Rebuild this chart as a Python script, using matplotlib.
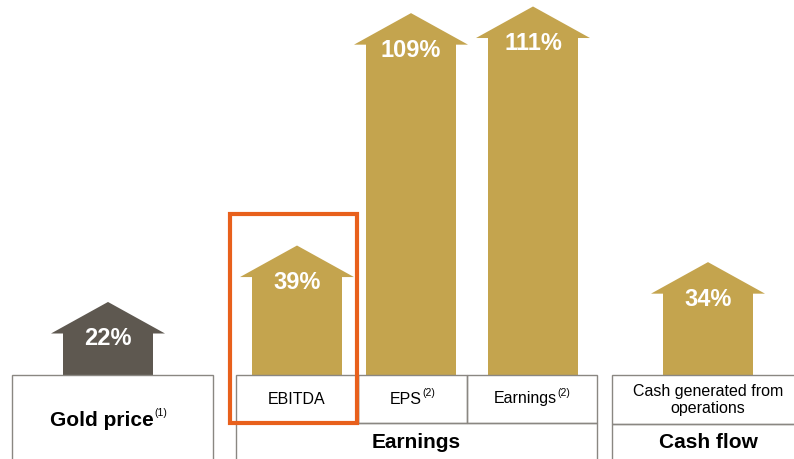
import matplotlib
matplotlib.use("Agg")
import matplotlib.pyplot as plt
from matplotlib.patches import Polygon, Rectangle

plt.rcParams['font.family'] = ['Liberation Sans', 'DejaVu Sans']

# Data
labels = ["Gold price", "EBITDA", "EPS", "Earnings", "Cash generated from\noperations"]
values = [22, 39, 109, 111, 34]
value_text = ["22%", "39%", "109%", "111%", "34%"]
groups = ["Earnings", "Cash flow"]

# Layout (pixels across, percent up)
W, H = 794, 459
BASE = 375          # pixel row of the baseline
PX = 3.32           # pixels per percentage point
centers = [108, 297, 411, 533, 708]
shaft_w, head_w, head_h = 90, 114, 9.5
colors = ["#5E5850", "#C4A44E", "#C4A44E", "#C4A44E", "#C4A44E"]
edge = "#8A8782"

fig = plt.figure(figsize=(W / 100, H / 100), dpi=100)
ax = fig.add_axes([0, 0, 1, 1])
ax.set_xlim(0, W)
ax.set_ylim(-(H - BASE) / PX, BASE / PX)
ax.axis("off")


def py(p):
    # pixel offset below baseline -> data units
    return -p / PX


def sup(txt, s):
    ax.annotate(s, xy=(1, 0.6), xycoords=txt, xytext=(0.5, 0),
                textcoords="offset points", fontsize=7.5, va="bottom", ha="left")


# arrows
for cx, v, c, t in zip(centers, values, colors, value_text):
    top = v
    sh = top - head_h
    pts = [(cx - shaft_w / 2, 0), (cx - shaft_w / 2, sh), (cx - head_w / 2, sh),
           (cx, top), (cx + head_w / 2, sh), (cx + shaft_w / 2, sh),
           (cx + shaft_w / 2, 0)]
    ax.add_patch(Polygon(pts, closed=True, facecolor=c, edgecolor="none", zorder=2))
    ax.text(cx, top - 37 / PX, t, color="white", fontsize=17, fontweight="bold",
            ha="center", va="center", zorder=3)

lw = 1.0
# Gold price box
ax.add_patch(Rectangle((12, py(H - BASE + 5)), 201, (H - BASE + 5) / PX,
                       fill=False, edgecolor=edge, lw=lw, zorder=3))
g = ax.text(102, py(45), labels[0], fontsize=15, fontweight="bold", ha="center",
            va="center", zorder=4)
sup(g, "(1)")

# Earnings table
ex = [236, 358, 467, 597]
for x0, x1 in zip(ex[:-1], ex[1:]):
    ax.add_patch(Rectangle((x0, py(48)), x1 - x0, 48 / PX, fill=False,
                           edgecolor=edge, lw=lw, zorder=3))
ax.add_patch(Rectangle((ex[0], py(H - BASE + 5)), ex[-1] - ex[0], (H - BASE + 5 - 48) / PX,
                       fill=False, edgecolor=edge, lw=lw, zorder=3))
ax.text((ex[0] + ex[1]) / 2, py(24), labels[1], fontsize=11.5, ha="center", va="center")
t = ax.text((ex[1] + ex[2]) / 2 - 7, py(24), labels[2], fontsize=11.5, ha="center", va="center")
sup(t, "(2)")
t = ax.text((ex[2] + ex[3]) / 2 - 7, py(24), labels[3], fontsize=11.5, ha="center", va="center")
sup(t, "(2)")
ax.text((ex[0] + ex[-1]) / 2, py(68), groups[0], fontsize=15, fontweight="bold",
        ha="center", va="center")

# Cash flow table
cx0, cx1 = 612, 800
ax.add_patch(Rectangle((cx0, py(49)), cx1 - cx0, 49 / PX, fill=False,
                       edgecolor=edge, lw=lw, zorder=3))
ax.add_patch(Rectangle((cx0, py(H - BASE + 5)), cx1 - cx0, (H - BASE + 5 - 49) / PX,
                       fill=False, edgecolor=edge, lw=lw, zorder=3))
ax.text(708, py(25), labels[4], fontsize=11.5, ha="center", va="center", linespacing=1.15)
ax.text(708, py(68), groups[1], fontsize=15, fontweight="bold", ha="center", va="center")

# highlight around EBITDA
ax.add_patch(Rectangle((230, py(48)), 127, (48 + 161) / PX, fill=False,
                       edgecolor="#E8601C", lw=3, zorder=5))

fig.savefig("out.png", dpi=100)
